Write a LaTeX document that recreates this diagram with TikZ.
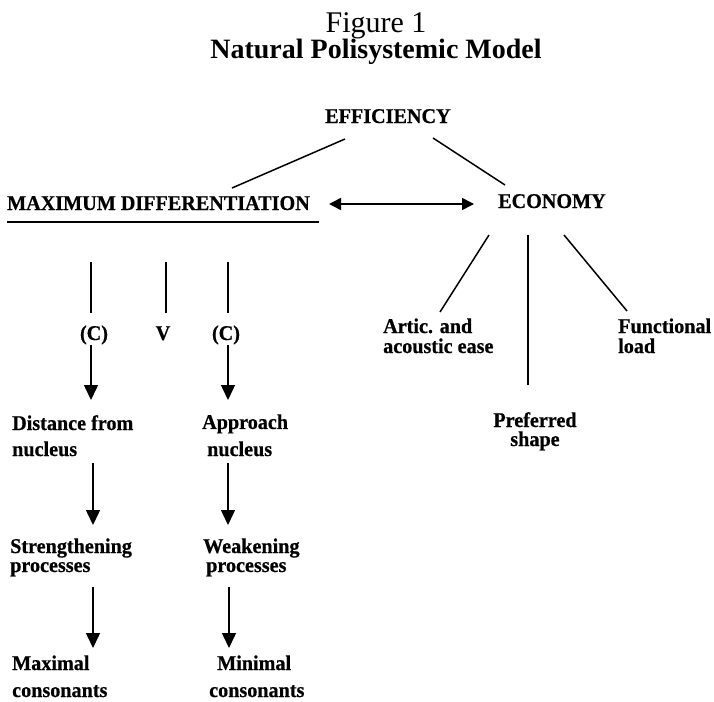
\documentclass[tikz,border=0pt]{standalone}
\usepackage{fontspec}
\setmainfont{Liberation Serif}
\newfontfamily\lblfont{Liberation Serif}[FakeStretch=0.96, BoldFeatures={FakeBold=0.6}]
\usetikzlibrary{arrows.meta}
\tikzset{
  lbl/.style={inner sep=0pt, font=\lblfont\bfseries\fontsize{21}{19}\selectfont, align=left, anchor=base west},
  conn/.style={line width=1.5pt},
  arr/.style={line width=1.5pt, -{Triangle[length=15pt,width=14pt]}},
  dbl/.style={line width=1.5pt, {Triangle[length=12pt,width=12pt]}-{Triangle[length=12pt,width=12pt]}},
}
\begin{document}
\begin{tikzpicture}[x=1pt,y=-1pt]
\useasboundingbox (0,0) rectangle (714,701);
\node[inner sep=0pt, anchor=base, font=\fontsize{30}{30}\selectfont] (fig) at (376,33) {Figure 1};
\node[inner sep=0pt, anchor=base, font=\bfseries\fontsize{28}{28}\selectfont] (title) at (376,59) {Natural Polisystemic Model};

\node[lbl] (eff) at (325,123) {EFFICIENCY};
\node[lbl] (maxd) at (7,210) {MAXIMUM DIFFERENTIATION};
\node[lbl] (econ) at (498,208) {ECONOMY};

% underline
\coordinate (ulA) at (7,222);
\coordinate (ulB) at (319,222);
\draw[conn] (ulA) -- (ulB);

% efficiency branches
\coordinate (effL) at (345,139);
\coordinate (maxdT) at (232,188);
\coordinate (effR) at (433,138);
\coordinate (econT) at (505,185);
\draw[conn] (effL) -- (maxdT);
\draw[conn] (effR) -- (econT);

% double arrow
\coordinate (dA) at (329,204);
\coordinate (dB) at (474,204);
\draw[dbl] (dA) -- (dB);

% economy branches
\node[lbl] (artic) at (383,353) {Artic. and\\[1pt]acoustic ease};
\node[lbl, align=center, anchor=base] (pref) at (535,446) {Preferred\\[0pt]shape};
\node[lbl] (func) at (618,353) {Functional\\[1pt]load};
\coordinate (a1) at (489,235);
\coordinate (a2) at (440,312);
\coordinate (p1) at (528,235);
\coordinate (p2) at (528,385);
\coordinate (f1) at (564,235);
\coordinate (f2) at (627,311);
\draw[conn] (a1) -- (a2);
\draw[conn] (p1) -- (p2);
\draw[conn] (f1) -- (f2);

% left column
\node[lbl, anchor=base] (c1) at (94,340) {(C)};
\node[lbl, anchor=base] (v) at (163,340) {V};
\node[lbl, anchor=base] (c2) at (226,340) {(C)};
\coordinate (t1) at (91,262);
\coordinate (b1) at (91,313);
\coordinate (t2) at (166,262);
\coordinate (b2) at (166,313);
\coordinate (t3) at (228,262);
\coordinate (b3) at (228,313);
\draw[conn] (t1) -- (b1);
\draw[conn] (t2) -- (b2);
\draw[conn] (t3) -- (b3);

\node[lbl] (dist) at (12,456) {Distance from\\[7pt]nucleus};
\node[lbl] (appr) at (202,456) {Approach\\[7pt]\hspace*{5pt}nucleus};
\coordinate (d1) at (91,400);
\coordinate (d2) at (228,400);
\draw[arr] (c1.south -| d1) -- (d1);
\draw[arr] (c2.south -| d2) -- (d2);

\node[lbl] (str) at (10,572) {Strengthening\\[0pt]processes};
\node[lbl] (weak) at (203,572) {Weakening\\[0pt]\hspace*{3pt}processes};
\coordinate (s0) at (93,463);
\coordinate (s1) at (93,525);
\coordinate (w0) at (228,463);
\coordinate (w1) at (228,525);
\draw[arr] (s0) -- (s1);
\draw[arr] (w0) -- (w1);

\node[lbl] (maxc) at (12,697) {Maximal\\[8pt]consonants};
\node[lbl] (minc) at (217,697) {Minimal\\[8pt]\hspace*{-8pt}consonants};
\coordinate (m0) at (93,587);
\coordinate (m1) at (93,648);
\coordinate (n0) at (229,587);
\coordinate (n1) at (229,648);
\draw[arr] (m0) -- (m1);
\draw[arr] (n0) -- (n1);
\end{tikzpicture}
\end{document}
